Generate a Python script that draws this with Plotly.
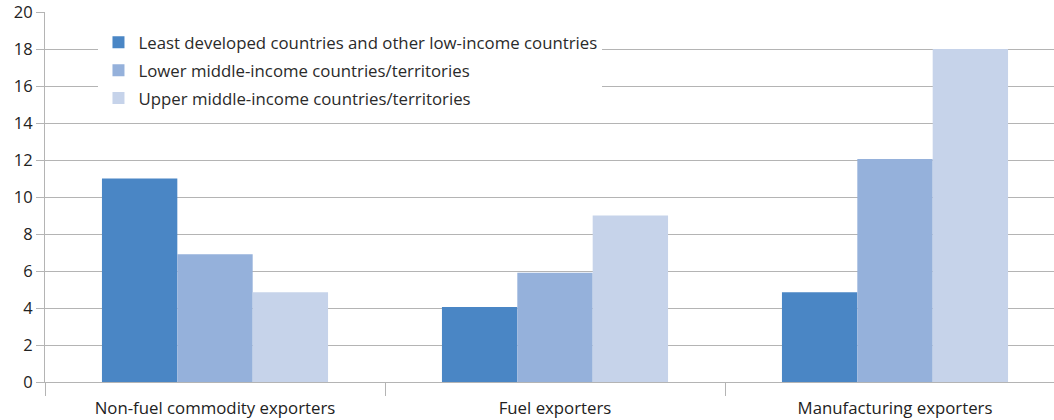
import plotly.graph_objects as go

categories = ["Non-fuel commodity exporters", "Fuel exporters", "Manufacturing exporters"]
series_names = [
    "Least developed countries and other low-income countries",
    "Lower middle-income countries/territories",
    "Upper middle-income countries/territories",
]
least_developed = [11.0, 4.05, 4.85]
lower_middle = [6.9, 5.9, 12.05]
upper_middle = [4.85, 9.0, 18.0]
y_ticks = [0, 2, 4, 6, 8, 10, 12, 14, 16, 18, 20]

colors = ["#4A86C5", "#95B1DB", "#C6D3EA"]
font_family = "Open Sans, Noto Sans, sans-serif"
grid_color = "#b4b4b4"

fig = go.Figure()
for i, (name, vals) in enumerate(zip(series_names, [least_developed, lower_middle, upper_middle])):
    fig.add_trace(go.Bar(
        x=categories, y=vals, name=name,
        marker=dict(color=colors[i], line=dict(width=0)),
        legendgroup=f"g{i}",
    ))

fig.update_layout(
    width=1054, height=420,
    margin=dict(l=45, r=0, t=12, b=38),
    paper_bgcolor="white", plot_bgcolor="white",
    barmode="group", bargap=0.335, bargroupgap=0,
    font=dict(family=font_family, size=16, color="#333333"),
    legend=dict(
        x=0.053, y=0.965, xanchor="left", yanchor="top",
        bgcolor="white", borderwidth=0,
        font=dict(family=font_family, size=16.8, color="#2a2a2a"),
        tracegroupgap=3,
    ),
    xaxis=dict(
        type="category",
        range=[-0.5, 2.5 - 11 / 340],
        showgrid=False,
        showline=True, linecolor=grid_color, linewidth=1,
        ticks="outside", tickson="boundaries", ticklen=13,
        tickcolor=grid_color, tickwidth=1,
        ticklabelstandoff=11,
        tickfont=dict(size=16.8, color="#222222"),
    ),
    yaxis=dict(
        range=[0, 20],
        tickvals=y_ticks,
        ticklabeloverflow="allow",
        showgrid=True, gridcolor=grid_color, gridwidth=1,
        showline=True, linecolor=grid_color, linewidth=1,
        ticks="outside", ticklen=8, tickcolor=grid_color,
        tickfont=dict(size=16.5, color="#222222"),
        zeroline=False,
    ),
)

fig.write_html("out.html")
